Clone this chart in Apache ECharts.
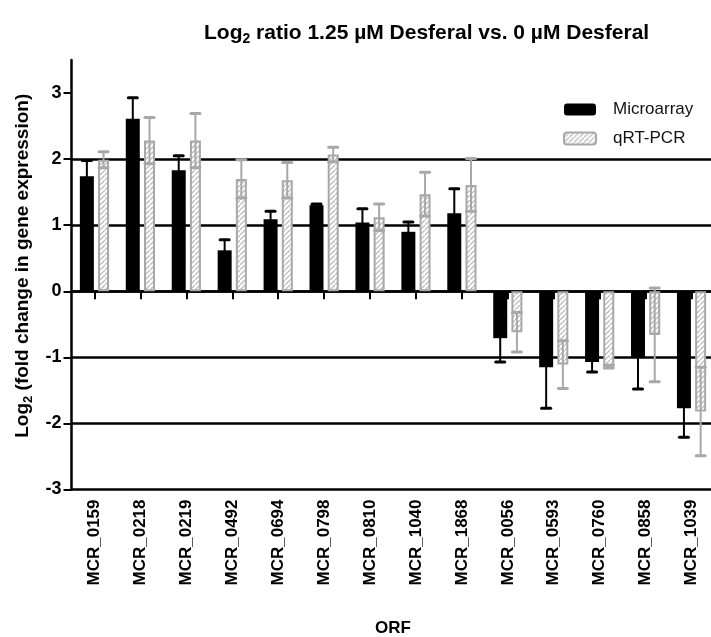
<!DOCTYPE html>
<html>
<head>
<meta charset="utf-8">
<style>
  html, body { margin: 0; padding: 0; background: #fff; }
  #main { width: 711px; height: 637px; }
</style>
<script src="https://cdn.jsdelivr.net/npm/echarts@6/dist/echarts.min.js"></script>
</head>
<body>
<div id="main"></div>
<script>
// ORFs on the x axis
var categories = ['MCR_0159', 'MCR_0218', 'MCR_0219', 'MCR_0492', 'MCR_0694', 'MCR_0798', 'MCR_0810',
  'MCR_1040', 'MCR_1868', 'MCR_0056', 'MCR_0593', 'MCR_0760', 'MCR_0858', 'MCR_1039'];
// log2 ratios
var microarray = [1.74, 2.61, 1.83, 0.62, 1.09, 1.30, 1.04, 0.90, 1.18, -0.71, -1.15, -1.07, -1.00, -1.77];
var microarrayErr = [0.24, 0.32, 0.22, 0.16, 0.12, 0.02, 0.21, 0.15, 0.37, 0.36, 0.62, 0.15, 0.48, 0.44];
var qrtpcr = [1.99, 2.28, 2.28, 1.70, 1.68, 2.07, 1.12, 1.47, 1.61, -0.62, -1.11, -1.14, -0.66, -1.82];
var qrtpcrErr = [0.12, 0.35, 0.41, 0.29, 0.27, 0.11, 0.20, 0.33, 0.40, 0.30, 0.36, 0.02, 0.71, 0.67];
var yTicks = [-3, -2, -1, 0, 1, 2, 3];

var FONT = '"Liberation Sans", Arial, sans-serif';
var GREY = '#a8a8a8';
var blackW = 14, greyW = 11, gapRatio = 0.3;

// diagonal hatch for the qRT-PCR bars
function hatch() {
  var s = 5;
  var c = document.createElement('canvas');
  c.width = s; c.height = s;
  var g = c.getContext('2d');
  g.fillStyle = '#fff';
  g.fillRect(0, 0, s, s);
  g.strokeStyle = '#bcbcbc';
  g.lineWidth = 1.3;
  g.beginPath();
  g.moveTo(-1, s + 1); g.lineTo(s + 1, -1);
  g.moveTo(-1 - s, 1); g.lineTo(1, -1 - s);
  g.moveTo(-1 + s, 2 * s + 1); g.lineTo(2 * s + 1, s - 1);
  g.stroke();
  return c;
}

// bar centres relative to category centre (same maths as echarts bar layout)
var total = blackW * (1 + gapRatio) + greyW;
var blackOff = -total / 2 + blackW / 2;
var greyOff = -total / 2 + blackW * (1 + gapRatio) + greyW / 2;

function errorBars(offset, color) {
  return function (params, api) {
    var i = api.value(0), v = api.value(1), e = api.value(2);
    var x = api.coord([i, v])[0] + offset;
    var lo = api.coord([i, v - e])[1];
    var hi = api.coord([i, v + e])[1];
    var half = 4.5;
    return {
      type: 'group',
      children: [
        { type: 'line', shape: { x1: x, y1: lo, x2: x, y2: hi }, style: { stroke: color, lineWidth: 2 } },
        { type: 'line', shape: { x1: x - half, y1: hi, x2: x + half, y2: hi }, style: { stroke: color, lineWidth: 3, lineCap: 'round' } },
        { type: 'line', shape: { x1: x - half, y1: lo, x2: x + half, y2: lo }, style: { stroke: color, lineWidth: 3, lineCap: 'round' } }
      ]
    };
  };
}

var chart = echarts.init(document.getElementById('main'));
var option = {
  animation: false,
  backgroundColor: '#fff',
  textStyle: { fontFamily: FONT },
  title: {
    text: '{a|Log}{s|2}{a| ratio 1.25 µM Desferal vs. 0 µM Desferal}',
    left: 204,
    top: 20,
    padding: 0,
    textStyle: {
      rich: {
        a: { fontSize: 21, fontWeight: 'bold', color: '#000', fontFamily: FONT },
        s: { fontSize: 14, fontWeight: 'bold', color: '#000', fontFamily: FONT, padding: [12, 0, 0, 0] }
      }
    }
  },
  legend: {
    orient: 'vertical',
    left: 563,
    top: 101,
    padding: 0,
    itemWidth: 32,
    itemHeight: 12,
    itemGap: 12,
    selectedMode: false,
    textStyle: { fontSize: 17, color: '#111', fontFamily: FONT, padding: [0, 0, 0, 12] },
    data: ['Microarray', 'qRT-PCR']
  },
  grid: { left: 71.5, top: 60, width: 643, bottom: 147.5, containLabel: false, outerBoundsMode: 'none' },
  xAxis: [
    {
      type: 'category',
      data: categories,
      position: 'bottom',
      name: 'ORF',
      nameLocation: 'middle',
      nameGap: 130,
      nameTextStyle: { fontSize: 17, fontWeight: 'bold', color: '#000', fontFamily: FONT },
      axisLine: { onZero: false, lineStyle: { color: '#000', width: 2.5 } },
      axisTick: { show: false },
      axisLabel: { interval: 0, rotate: 90, margin: 10, fontSize: 17, fontWeight: 'bold', color: '#000', fontFamily: FONT }
    },
    {
      type: 'category',
      data: categories,
      position: 'bottom',
      axisLine: { onZero: true, lineStyle: { color: '#000', width: 2.5 } },
      axisTick: { show: true, interval: 0, alignWithLabel: true, length: 8, lineStyle: { color: '#000', width: 2 } },
      axisLabel: { show: false }
    }
  ],
  yAxis: {
    type: 'value',
    min: -3,
    max: 3.5,
    interval: 1,
    name: '{a|Log}{s|2}{a| (fold change in gene expression)}',
    nameLocation: 'middle',
    nameGap: 35,
    nameTextStyle: {
      padding: [0, 0, 0, 18],
      rich: {
        a: { fontSize: 19, fontWeight: 'bold', color: '#000', fontFamily: FONT },
        s: { fontSize: 13, fontWeight: 'bold', color: '#000', fontFamily: FONT, padding: [11, 0, 0, 0] }
      }
    },
    axisLine: { show: true, lineStyle: { color: '#000', width: 2.5 } },
    axisTick: { show: true, inside: false, customValues: yTicks, length: 8, lineStyle: { color: '#000', width: 2 } },
    axisLabel: { customValues: yTicks, margin: 10, fontSize: 18, fontWeight: 'bold', color: '#000', fontFamily: FONT },
    splitLine: { show: true, showMinLine: false, showMaxLine: false, lineStyle: { color: '#000', width: 2.5 } }
  },
  series: [
    {
      name: 'Microarray',
      type: 'bar',
      xAxisIndex: 0,
      barWidth: blackW,
      barGap: (gapRatio * 100) + '%',
      itemStyle: { color: '#000' },
      data: microarray
    },
    {
      name: 'qRT-PCR',
      type: 'bar',
      xAxisIndex: 0,
      barWidth: greyW,
      barGap: (gapRatio * 100) + '%',
      itemStyle: { color: { image: hatch(), repeat: 'repeat' }, borderColor: GREY, borderWidth: 2 },
      data: qrtpcr
    },
    {
      type: 'custom',
      xAxisIndex: 0,
      renderItem: errorBars(blackOff, '#000'),
      encode: { x: 0, y: 1 },
      z: 3,
      data: microarray.map(function (v, i) { return [i, v, microarrayErr[i]]; })
    },
    {
      type: 'custom',
      xAxisIndex: 0,
      renderItem: errorBars(greyOff, GREY),
      encode: { x: 0, y: 1 },
      z: 3,
      data: qrtpcr.map(function (v, i) { return [i, v, qrtpcrErr[i]]; })
    }
  ]
};
chart.setOption(option);
</script>
</body>
</html>
